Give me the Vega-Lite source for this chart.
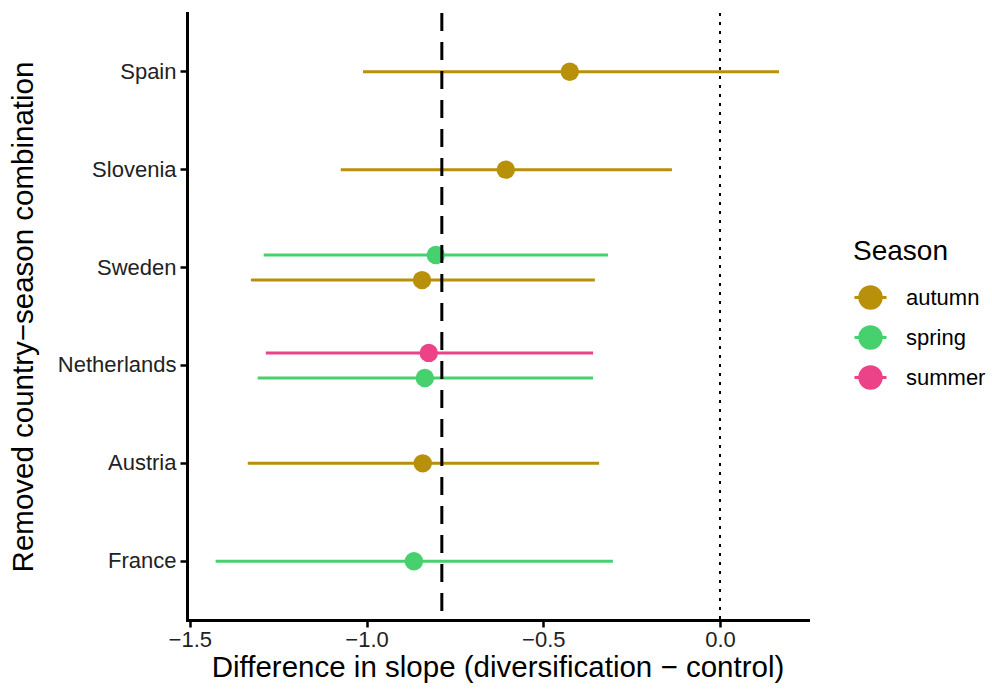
{
  "$schema": "https://vega.github.io/schema/vega-lite/v6.json",
  "autosize": {"type": "none"},
  "padding": {"left": 187, "top": 13, "right": 184, "bottom": 73},
  "width": 621,
  "height": 607,
  "background": "white",
  "config": {
    "font": "Liberation Sans",
    "view": {"stroke": null},
    "axis": {"grid": false}
  },
  "data": {
    "values": [
      {"country": "Spain", "season": "autumn", "pos": "mid", "est": -0.425, "low": -1.010, "high": 0.167},
      {"country": "Slovenia", "season": "autumn", "pos": "mid", "est": -0.606, "low": -1.073, "high": -0.136},
      {"country": "Sweden", "season": "spring", "pos": "top", "est": -0.804, "low": -1.291, "high": -0.317},
      {"country": "Sweden", "season": "autumn", "pos": "bot", "est": -0.843, "low": -1.327, "high": -0.354},
      {"country": "Netherlands", "season": "summer", "pos": "top", "est": -0.824, "low": -1.285, "high": -0.359},
      {"country": "Netherlands", "season": "spring", "pos": "bot", "est": -0.835, "low": -1.308, "high": -0.359},
      {"country": "Austria", "season": "autumn", "pos": "mid", "est": -0.841, "low": -1.336, "high": -0.342},
      {"country": "France", "season": "spring", "pos": "mid", "est": -0.866, "low": -1.427, "high": -0.303}
    ]
  },
  "encoding": {
    "y": {
      "field": "country", "type": "nominal",
      "sort": ["Spain", "Slovenia", "Sweden", "Netherlands", "Austria", "France"],
      "scale": {"paddingInner": 0, "paddingOuter": 0.1},
      "axis": {
        "title": "Removed country\u2212season combination",
        "titleFontSize": 29.5, "titleFontWeight": "normal", "titleColor": "black",
        "titlePadding": 19,
        "labelFontSize": 22, "labelColor": "#222222", "labelPadding": 4,
        "domainColor": "black", "domainWidth": 3, "domainCap": "square",
        "tickColor": "black", "tickWidth": 2.5, "tickSize": 7
      }
    },
    "yOffset": {
      "field": "pos", "type": "nominal",
      "scale": {"domain": ["x1", "x2", "top", "mid", "bot", "x3", "x4"], "paddingInner": 0, "paddingOuter": 0.4}
    }
  },
  "layer": [
    {
      "mark": {"type": "rule", "strokeWidth": 3},
      "encoding": {
        "x": {
          "field": "low", "type": "quantitative",
          "scale": {"domain": [-1.508, 0.249], "nice": false, "zero": false},
          "axis": {
            "values": [-1.5, -1.0, -0.5, 0.0], "format": ".1f",
            "title": "Difference in slope (diversification \u2212 control)",
            "titleFontSize": 29.5, "titleFontWeight": "normal", "titleColor": "black",
            "titlePadding": 3,
            "labelFontSize": 22, "labelColor": "#222222", "labelPadding": 2,
            "domainColor": "black", "domainWidth": 3, "domainCap": "square",
            "tickColor": "black", "tickWidth": 2.5, "tickSize": 7
          }
        },
        "x2": {"field": "high"},
        "color": {
          "field": "season", "type": "nominal",
          "scale": {"domain": ["autumn", "spring", "summer"], "range": ["#B8900A", "#46D06E", "#EB4288"]},
          "legend": {
            "title": "Season",
            "orient": "none", "legendX": 666, "legendY": 225,
            "titleFontSize": 28, "titleFontWeight": "normal", "titleColor": "black",
            "titlePadding": 14,
            "labelFontSize": 22, "labelColor": "black", "labelOffset": 18,
            "symbolType": "M-1,0L1,0M-0.67,0A0.67,0.67 0 1,0 0.67,0A0.67,0.67 0 1,0 -0.67,0Z",
            "symbolSize": 1024, "symbolStrokeWidth": 3, "rowPadding": 5,
            "encode": {
              "symbols": {
                "update": {
                  "stroke": {"scale": "color", "field": "value"},
                  "fill": {"scale": "color", "field": "value"},
                  "strokeWidth": {"value": 3},
                  "opacity": {"value": 1}
                }
              }
            }
          }
        }
      }
    },
    {
      "mark": {"type": "point", "filled": true, "opacity": 1, "size": 340},
      "encoding": {
        "x": {"field": "est", "type": "quantitative"},
        "color": {"field": "season", "type": "nominal"}
      }
    },
    {
      "data": {"values": [{"v": -0.787}]},
      "mark": {"type": "rule", "color": "black", "strokeWidth": 3, "strokeDash": [18, 11]},
      "encoding": {"x": {"field": "v", "type": "quantitative"}, "y": null, "yOffset": null}
    },
    {
      "data": {"values": [{"v": 0}]},
      "mark": {"type": "rule", "color": "black", "strokeWidth": 2, "strokeDash": [3, 6]},
      "encoding": {"x": {"field": "v", "type": "quantitative"}, "y": null, "yOffset": null}
    }
  ]
}
